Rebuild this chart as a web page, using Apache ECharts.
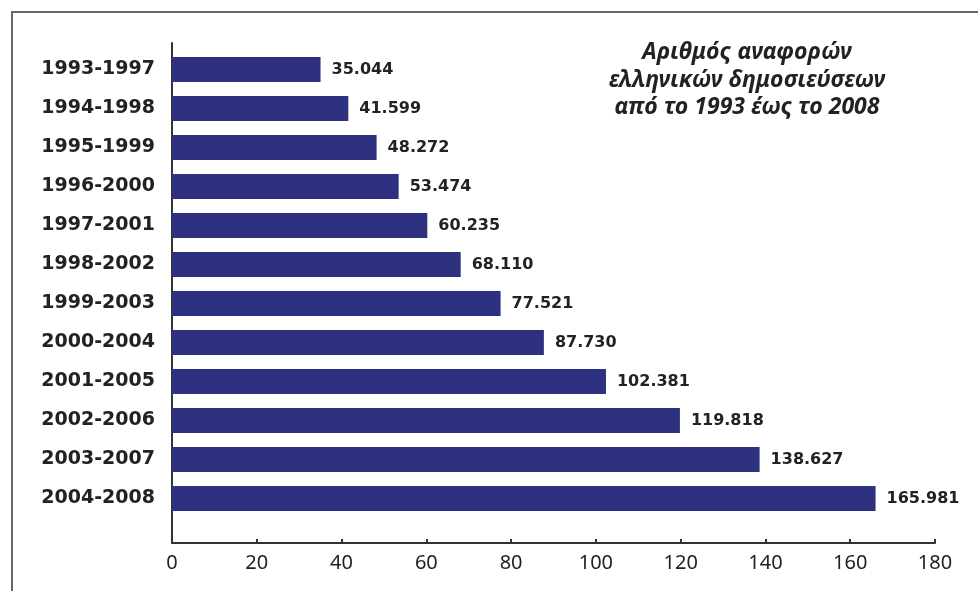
<!DOCTYPE html>
<html><head><meta charset="utf-8">
<script src="https://cdn.jsdelivr.net/npm/echarts@6/dist/echarts.min.js"></script>
<style>html,body{margin:0;padding:0;background:#fff}#c{width:978px;height:591px}</style>
</head><body><div id="c"></div>
<script>
const categories = ['1993-1997','1994-1998','1995-1999','1996-2000','1997-2001','1998-2002','1999-2003','2000-2004','2001-2005','2002-2006','2003-2007','2004-2008'];
const citations = [35.044, 41.599, 48.272, 53.474, 60.235, 68.110, 77.521, 87.730, 102.381, 119.818, 138.627, 165.981];
const xTicks = [0, 20, 40, 60, 80, 100, 120, 140, 160, 180];
const titleLines = ['Αριθμός αναφορών', 'ελληνικών δημοσιεύσεων', 'από το 1993 έως το 2008'];

const chart = echarts.init(document.getElementById('c'), null, {renderer: 'canvas'});
const dark = '#222';
chart.setOption({
  backgroundColor: '#fff',
  animation: false,
  title: {
    text: titleLines.join('\n'),
    left: 747, top: 39, textAlign: 'center', padding: 0,
    textStyle: {fontFamily: 'Noto Sans', fontStyle: 'italic', fontWeight: 'bold', fontSize: 23, lineHeight: 27.5, color: dark}
  },
  graphic: [{type: 'rect', shape: {x: 12, y: 12, width: 1100, height: 1100}, style: {fill: 'none', stroke: '#666', lineWidth: 2}, silent: true}],
  grid: [
    {left: 172, right: 43, top: 50, height: 468},
    {left: 172, right: 43, top: 43, height: 500}
  ],
  xAxis: [
    {gridIndex: 0, type: 'value', min: 0, max: 180, interval: 20, show: false},
    {gridIndex: 1, type: 'value', min: xTicks[0], max: xTicks[xTicks.length-1], interval: xTicks[1]-xTicks[0],
     axisLine: {show: true, lineStyle: {color: '#333', width: 2}},
     axisTick: {show: true, inside: true, length: 4, lineStyle: {color: '#333', width: 2}},
     splitLine: {show: false},
     axisLabel: {margin: 10, fontFamily: 'Noto Sans', fontSize: 20, color: dark}}
  ],
  yAxis: [
    {gridIndex: 0, type: 'category', data: categories, inverse: true,
     axisLine: {show: false}, axisTick: {show: false},
     axisLabel: {margin: 17, fontFamily: 'DejaVu Sans', fontWeight: 'bold', fontSize: 19, color: dark}},
    {gridIndex: 1, type: 'value', min: 0, max: 1,
     axisLine: {show: true, lineStyle: {color: '#333', width: 2}},
     axisTick: {show: false}, axisLabel: {show: false}, splitLine: {show: false}}
  ],
  series: [{
    type: 'bar', xAxisIndex: 0, yAxisIndex: 0, data: citations, barWidth: 25,
    itemStyle: {color: '#2e3180'},
    label: {show: true, position: 'right', distance: 11, fontFamily: 'DejaVu Sans', fontWeight: 'bold', fontSize: 16, color: dark,
      formatter: p => p.value.toFixed(3)}
  }]
});
</script></body></html>
